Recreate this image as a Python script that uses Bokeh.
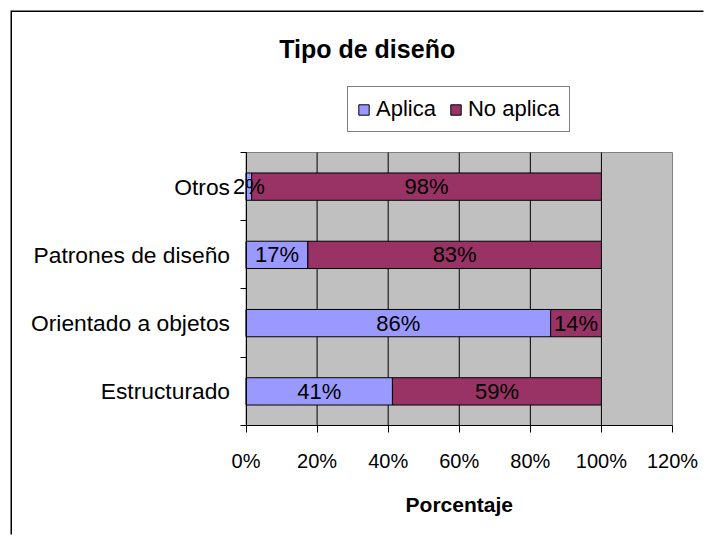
from bokeh.plotting import figure
from bokeh.models import (ColumnDataSource, Range1d, FixedTicker, PrintfTickFormatter,
                          Legend, LegendItem, Label)
from bokeh.core.properties import value
from bokeh.embed import file_html
from bokeh.resources import INLINE

# ---- data (bottom to top) ----
categories = ["Estructurado", "Orientado a objetos", "Patrones de diseño", "Otros"]
aplica = [41.2, 85.7, 17.4, 1.6]
no_aplica = [58.8, 14.3, 82.6, 98.4]
series_names = ["Aplica", "No aplica"]
series_colors = ["#9999FF", "#993366"]
x_ticks = [0, 20, 40, 60, 80, 100, 120]
title_text = "Tipo de diseño"
x_title = "Porcentaje"

FONT = "Liberation Sans"
n_cat = len(categories)

# The frame covers the whole chart; the plot area is x = 0..120, y = 0..n_cat,
# and the axes are pinned to x = 0 / y = 0.
p = figure(width=693, height=524, output_backend="svg", toolbar_location=None,
           x_range=Range1d(-65.70, 129.28), y_range=Range1d(-1.6264, 6.0513),
           min_border_left=0, min_border_right=0, min_border_top=0, min_border_bottom=0,
           background_fill_color="white", border_fill_color="white",
           outline_line_color=None)
p.title.visible = False
p.styles = {"margin-left": "12px", "margin-top": "12px",
            "box-shadow": "-1.5px -1.5px 0 0 black"}

# plot-area background (0 .. 120 %)
p.quad(left=x_ticks[0], right=x_ticks[-1], bottom=0, top=n_cat,
       fill_color="#C0C0C0", line_color="#808080", line_width=1, level="image")

# vertical grid lines inside the plot area
gx = x_ticks[1:-1]
p.segment(x0=gx, y0=[0] * len(gx), x1=gx, y1=[n_cat] * len(gx),
          line_color="black", line_width=1, level="underlay")
p.xgrid.visible = False
p.ygrid.visible = False

pos = [i + 0.5 for i in range(n_cat)]
totals = [a + n for a, n in zip(aplica, no_aplica)]
src = ColumnDataSource(dict(y=pos, a=aplica, n=no_aplica, t=totals))

r1 = p.hbar(y="y", left=0, right="a", height=0.4, source=src,
            fill_color=series_colors[0], line_color="black", line_width=1)
r2 = p.hbar(y="y", left="a", right="t", height=0.4, source=src,
            fill_color=series_colors[1], line_color="black", line_width=1)

# data labels
lab_x = [a / 2 for a in aplica] + [a + n / 2 for a, n in zip(aplica, no_aplica)]
lab_y = pos + pos
lab_t = [f"{round(v)}%" for v in aplica] + [f"{round(v)}%" for v in no_aplica]
lsrc = ColumnDataSource(dict(x=lab_x, y=lab_y, t=lab_t))
p.text(x="x", y="y", text="t", source=lsrc, text_font=value(FONT), text_font_size="22px",
       text_align="center", text_baseline="middle", text_color="black")

# x axis, pinned at y = 0
xa = p.xaxis[0]
xa.fixed_location = 0
xa.bounds = (x_ticks[0], x_ticks[-1])
xa.ticker = FixedTicker(ticks=x_ticks)
xa.formatter = PrintfTickFormatter(format="%d%%")
xa.axis_line_color = "black"
xa.major_tick_line_color = "black"
xa.major_tick_out = 7
xa.major_tick_in = 0
xa.minor_tick_line_color = None
xa.major_label_text_font = FONT
xa.major_label_text_font_size = "20px"
xa.major_label_text_color = "black"
xa.major_label_standoff = 18

# y axis pinned at x = 0: labels at category centres, ticks at category boundaries
ya = p.yaxis[0]
ya.fixed_location = x_ticks[0]
ya.bounds = (0, n_cat)
ya.ticker = FixedTicker(ticks=pos, minor_ticks=list(range(n_cat + 1)))
ya.major_label_overrides = {v: c for v, c in zip(pos, categories)}
ya.axis_line_color = "black"
ya.major_tick_line_color = None
ya.major_tick_out = 0
ya.major_tick_in = 0
ya.minor_tick_line_color = "black"
ya.minor_tick_out = 6
ya.minor_tick_in = 0
ya.major_label_text_font = FONT
ya.major_label_text_font_size = "22.8px"
ya.major_label_text_color = "black"
ya.major_label_standoff = 10

# x-axis title, centred on the axis
p.add_layout(Label(x=(x_ticks[0] + x_ticks[-1]) / 2, y=31.8, x_units="data", y_units="screen",
                   text=x_title, text_font=FONT, text_font_size="21px", text_font_style="bold",
                   text_align="center", text_baseline="middle", text_color="black"))

# legend
legend = Legend(items=[LegendItem(label=series_names[0], renderers=[r1]),
                       LegendItem(label=series_names[1], renderers=[r2])],
                orientation="horizontal", location=(335, 404), margin=0,
                padding=9, spacing=13, label_standoff=6,
                glyph_width=13, glyph_height=13,
                label_text_font=FONT, label_text_font_size="22px", label_text_color="black",
                border_line_color="black", border_line_width=1,
                background_fill_color="white", background_fill_alpha=1)
p.add_layout(legend, "center")

# title
p.add_layout(Label(x=354.7, y=487.6, x_units="screen", y_units="screen", text=title_text,
                   text_font=FONT, text_font_size="25px", text_font_style="bold",
                   text_align="center", text_baseline="middle", text_color="black"))

open("out.html", "w").write(file_html(p, INLINE))
